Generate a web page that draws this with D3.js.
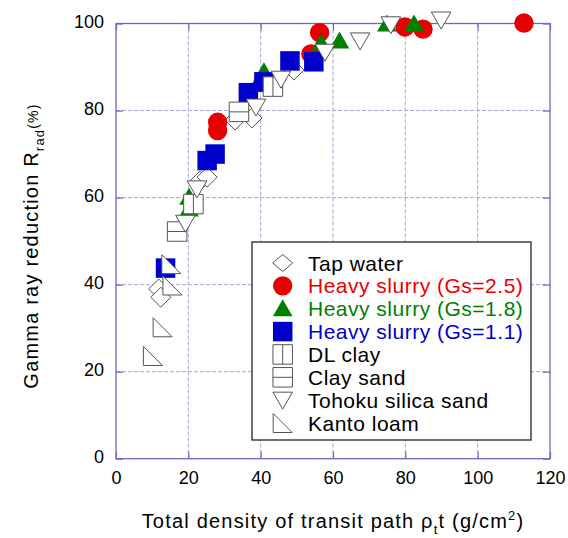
<!DOCTYPE html>
<html>
<head>
<meta charset="utf-8">
<script src="https://cdn.jsdelivr.net/npm/d3@7"></script>
<style>
  html, body { margin: 0; padding: 0; background: #fff; }
  svg { display: block; font-family: "Liberation Sans", Arial, sans-serif; }
</style>
</head>
<body>
<svg id="chart" width="568" height="538"></svg>
<script>
// Gamma ray reduction vs. total density of the transit path, per material
const xTicks = [0, 20, 40, 60, 80, 100, 120];
const yTicks = [0, 20, 40, 60, 80, 100];

const tapWaterX = [11.8, 12.4, 23.2, 25.2, 32.9, 37.6, 49.2];
const tapWaterY = [39.0, 37.1, 63.8, 64.7, 77.8, 78.3, 89.3];

const slurry25X = [28.1, 28.1, 53.9, 56.3, 79.9, 84.9, 112.8];
const slurry25Y = [77.3, 75.4, 93.0, 97.9, 99.2, 98.7, 100.1];

const slurry18X = [20.2, 20.2, 39.0, 40.9, 56.7, 61.8, 74.9, 82.4];
const slurry18Y = [57.4, 60.1, 86.0, 88.9, 95.5, 96.0, 99.9, 99.9];

const slurry11X = [13.7, 25.2, 27.4, 36.6, 40.9, 48.1, 54.7];
const slurry11Y = [43.8, 68.5, 70.0, 84.1, 86.6, 91.4, 91.2];

const dlClayX = [21.4, 43.4];
const dlClayY = [58.5, 85.5];

const claySandX = [16.9, 34.0];
const claySandY = [52.2, 79.7];

const tohokuX = [19.2, 22.4, 38.7, 45.6, 57.8, 67.5, 76.0, 89.9];
const tohokuY = [54.1, 62.0, 80.8, 87.2, 93.4, 96.0, 99.7, 100.8];

const kantoX = [10.2, 12.9, 15.6, 15.3];
const kantoY = [23.6, 30.2, 39.8, 44.7];

const seriesNames = [
  "Tap water",
  "Heavy slurry (Gs=2.5)",
  "Heavy slurry (Gs=1.8)",
  "Heavy slurry (Gs=1.1)",
  "DL clay",
  "Clay sand",
  "Tohoku silica sand",
  "Kanto loam"
];

const RED = "#e60000", GREEN = "#008000", BLUE = "#0000cc";
const OPEN_STROKE = "#555";

const series = [
  { name: seriesNames[0], xs: tapWaterX, ys: tapWaterY, shape: "diamond", fill: "#fff", stroke: OPEN_STROKE, text: "#000" },
  { name: seriesNames[1], xs: slurry25X, ys: slurry25Y, shape: "circle", fill: RED, stroke: "none", text: RED },
  { name: seriesNames[2], xs: slurry18X, ys: slurry18Y, shape: "triangle", fill: GREEN, stroke: "none", text: GREEN },
  { name: seriesNames[3], xs: slurry11X, ys: slurry11Y, shape: "square", fill: BLUE, stroke: "none", text: BLUE },
  { name: seriesNames[4], xs: dlClayX, ys: dlClayY, shape: "squareV", fill: "#fff", stroke: OPEN_STROKE, text: "#000" },
  { name: seriesNames[5], xs: claySandX, ys: claySandY, shape: "squareH", fill: "#fff", stroke: OPEN_STROKE, text: "#000" },
  { name: seriesNames[6], xs: tohokuX, ys: tohokuY, shape: "triangleDown", fill: "#fff", stroke: OPEN_STROKE, text: "#000" },
  { name: seriesNames[7], xs: kantoX, ys: kantoY, shape: "rightTri", fill: "#fff", stroke: OPEN_STROKE, text: "#000" }
];

// Marker outlines, centred on the origin
function shapePath(kind) {
  const s = 9.75;
  switch (kind) {
    case "diamond": return "M0,-10L10,0L0,10L-10,0Z";
    case "circle": return d3.symbol(d3.symbolCircle, Math.PI * 9.7 * 9.7)();
    case "triangle": return "M0,-9.5L9.8,7.5L-9.8,7.5Z";
    case "square": return `M${-s},${-s}H${s}V${s}H${-s}Z`;
    case "squareV": return `M${-s},${-s}H${s}V${s}H${-s}ZM0,${-s}V${s}`;
    case "squareH": return `M${-s},${-s}H${s}V${s}H${-s}ZM${-s},0H${s}`;
    case "triangleDown": return "M-9.8,-8H9.8L0,9Z";
    case "rightTri": return "M-9.5,-9.5L9.5,9.5H-9.5Z";
  }
}

const svg = d3.select("#chart");
const plotL = 116, plotR = 550, plotT = 23.5, plotB = 458.7;

const x = d3.scaleLinear().domain([0, 120]).range([plotL, plotR]);
const y = d3.scaleLinear().domain([0, 100]).range([plotB, plotT]);

const AXIS = "#6a6ac0", GRID = "#a6a6dc";

// Dashed grid
const grid = svg.append("g");
grid.selectAll("line.gx").data(xTicks.slice(1, -1)).join("line")
  .attr("x1", d => x(d)).attr("x2", d => x(d))
  .attr("y1", plotT).attr("y2", plotB)
  .attr("stroke", GRID).attr("stroke-width", 1).attr("stroke-dasharray", "4,2");
grid.selectAll("line.gy").data(yTicks.slice(1, -1)).join("line")
  .attr("x1", plotL).attr("x2", plotR)
  .attr("y1", d => y(d)).attr("y2", d => y(d))
  .attr("stroke", GRID).attr("stroke-width", 1).attr("stroke-dasharray", "4,2");

// Axes with inward ticks on all four sides
const tickFont = g => g.selectAll("text").attr("font-size", 18).attr("fill", "#000")
  .attr("font-family", "'Liberation Sans', Arial, sans-serif");
const styleAxis = g => {
  g.select(".domain").remove();
  g.selectAll(".tick line").attr("stroke", AXIS).attr("stroke-width", 1.2);
};

svg.append("g").attr("transform", `translate(0,${plotB})`)
  .call(d3.axisBottom(x).tickValues(xTicks).tickSizeInner(-7).tickSizeOuter(0).tickPadding(13))
  .call(styleAxis).call(tickFont);
svg.append("g").attr("transform", `translate(0,${plotT})`)
  .call(d3.axisTop(x).tickValues(xTicks).tickSizeInner(-7).tickSizeOuter(0).tickFormat(""))
  .call(styleAxis);
svg.append("g").attr("transform", `translate(${plotL},0)`)
  .call(d3.axisLeft(y).tickValues(yTicks).tickSizeInner(-7).tickSizeOuter(0).tickPadding(12))
  .call(styleAxis).call(tickFont)
  .selectAll("text").attr("dy", "0.22em");
svg.append("g").attr("transform", `translate(${plotR},0)`)
  .call(d3.axisRight(y).tickValues(yTicks).tickSizeInner(-7).tickSizeOuter(0).tickFormat(""))
  .call(styleAxis);

// Plot frame
svg.append("rect")
  .attr("x", plotL).attr("y", plotT)
  .attr("width", plotR - plotL).attr("height", plotB - plotT)
  .attr("fill", "none").attr("stroke", AXIS).attr("stroke-width", 1.3);

// Data markers, drawn in legend order
const marks = svg.append("g");
series.forEach(s => {
  const pts = s.xs.map((v, i) => [v, s.ys[i]]);
  marks.append("g").selectAll("path").data(pts).join("path")
    .attr("transform", d => `translate(${x(d[0])},${y(d[1])})`)
    .attr("d", shapePath(s.shape))
    .attr("fill", s.fill)
    .attr("stroke", s.stroke)
    .attr("stroke-width", 1);
});

// Legend
const lg = svg.append("g");
lg.append("rect")
  .attr("x", 252).attr("y", 242).attr("width", 279).attr("height", 198)
  .attr("fill", "#fff").attr("stroke", "#333").attr("stroke-width", 1.4);
series.forEach((s, i) => {
  const cy = 263 + i * 22.86;
  lg.append("path")
    .attr("transform", `translate(282.7,${cy})`)
    .attr("d", s.shape === "diamond" ? "M0,-8.5L10,0L0,8.5L-10,0Z" : shapePath(s.shape))
    .attr("fill", s.fill).attr("stroke", s.stroke).attr("stroke-width", 1);
  lg.append("text")
    .attr("x", 308).attr("y", cy + 7.5)
    .attr("font-size", 21).attr("letter-spacing", 0.5).attr("fill", s.text)
    .text(s.name);
});

// Axis titles
const xt = svg.append("text")
  .attr("x", (plotL + plotR) / 2).attr("y", 528)
  .attr("text-anchor", "middle").attr("font-size", 20).attr("letter-spacing", 1.2)
  .attr("fill", "#000");
xt.append("tspan").text("Total density of transit path \u03C1");
xt.append("tspan").attr("font-size", 13).attr("dy", 6).text("t");
xt.append("tspan").attr("dy", -6).text("t (g/cm");
xt.append("tspan").attr("font-size", 13).attr("dy", -8).text("2");
xt.append("tspan").attr("dy", 8).text(")");

const yt = svg.append("text")
  .attr("transform", `translate(38,246) rotate(-90)`)
  .attr("text-anchor", "middle").attr("font-size", 20).attr("letter-spacing", 1.2)
  .attr("fill", "#000");
yt.append("tspan").text("Gamma ray reduction R");
yt.append("tspan").attr("font-size", 13).attr("dy", 6).text("rad");
yt.append("tspan").attr("font-size", 14).attr("dy", -6).text("(%)");
</script>
</body>
</html>
